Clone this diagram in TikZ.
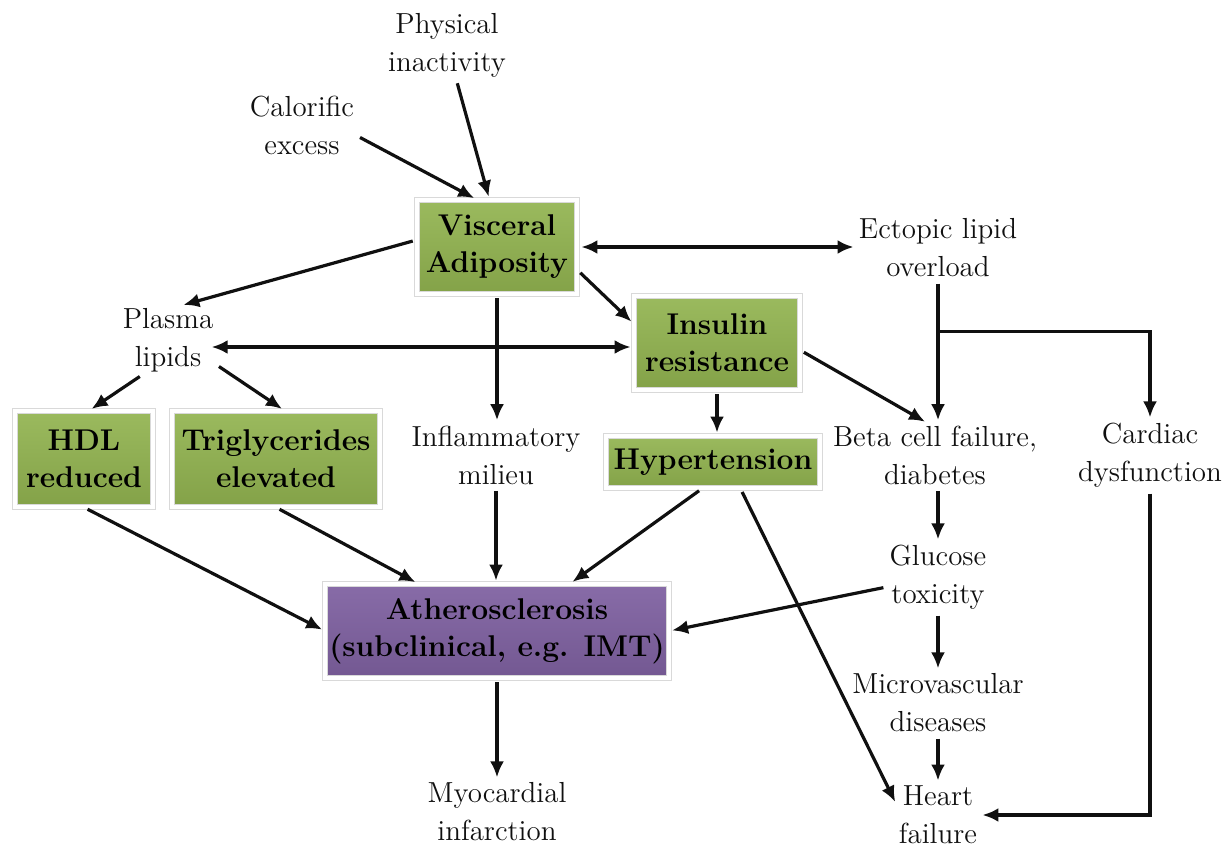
\documentclass[tikz,border=0pt]{standalone}
\usetikzlibrary{positioning,calc,shadows,arrows.meta}
\definecolor{leaf}{HTML}{92B450}
\definecolor{plum}{HTML}{8062A2}
\definecolor{ink}{HTML}{101010}
\tikzset{
  % --- nodes
  txt/.style  = {align=center, inner sep=1pt, font=\rmfamily\fontsize{14.5}{19}\selectfont, text=ink},
  box/.style  = {draw=black!15, double=white, double distance=2pt, line width=0.4pt,
                 align=center, inner sep=2pt,
                 font=\rmfamily\fontsize{15}{18.5}\selectfont\bfseries, text=black,
                 top color=leaf!92!white, bottom color=leaf!90!black,
                 drop shadow={shadow xshift=0.8pt, shadow yshift=-0.8pt, opacity=0.25}},
  risk/.style = {box, top color=plum!94!white, bottom color=plum!90!black},
  % --- edges
  e/.style    = {-{Latex[length=8pt,width=7pt]}, line width=1.6pt, draw=ink,
                 shorten >=1.5pt, shorten <=2pt},
  ee/.style   = {e, {Latex[length=8pt,width=7pt]}-{Latex[length=8pt,width=7pt]}},
}
\begin{document}
\begin{tikzpicture}[x=0.5pt,y=-0.5pt]
  \useasboundingbox (0,0) rectangle (1226,850);
  \node[txt] (phys)    at (447,45)  {Physical\\inactivity};
  \node[txt] (calor)   at (302,125) {Calorific\\excess};
  \node[box, minimum width=80pt, minimum height=47pt] (visc) at (497,247) {Visceral\\Adiposity};
  \node[txt] (ectop)   at (938,248) {Ectopic lipid\\overload};
  \node[txt] (plasma)  at (168,340) {Plasma\\lipids};
  \node[box, minimum width=83pt, minimum height=47pt] (insul) at (717,343) {Insulin\\resistance};
  \node[box, minimum width=69pt, minimum height=48pt] (hdl) at (84,459) {HDL\\reduced};
  \node[box, minimum width=104pt, minimum height=48pt] (trig) at (276,459) {Triglycerides\\elevated};
  \node[txt] (inflam)  at (496,455) {Inflammatory\\milieu};
  \node[box, minimum width=107pt, minimum height=26pt] (hyper) at (713,462) {Hypertension};
  \node[txt] (beta)    at (935,455) {Beta cell failure,\\diabetes};
  \node[txt] (cardiac) at (1150,455) {Cardiac\\dysfunction};
  \node[risk, minimum width=168pt, minimum height=47pt] (ath) at (497,631) {Atherosclerosis\\(subclinical, e.g. IMT)};
  \node[txt] (gluc)    at (938,577) {Glucose\\toxicity};
  \node[txt] (micro)   at (938,703) {Microvascular\\diseases};
  \node[txt] (myo)     at (497,812) {Myocardial\\infarction};
  \node[txt] (heart)   at (938,815) {Heart\\failure};
  % --- top causes
  \draw[e] (calor.-11) -- (visc.113);
  \draw[e] (phys.-75) -- (visc.99);
  \draw[ee] (visc.east) -- (visc.east -| ectop.west);
  \draw[e] (visc.175) -- (plasma.70);
  \draw[e] (visc.-16) -- (insul.167);
  \draw[e] (visc.south) -- (visc.south |- inflam.north);
  \coordinate (pl) at ($(plasma.east)+(-8,7)$);
  \draw[ee] (pl) -- (pl -| insul.west);
  \draw[e] (plasma.234) -- (hdl.84);
  \draw[e] (plasma.-27) -- (trig.80);
  \draw[e] (insul.south) -- (insul.south |- hyper.north);
  \draw[e] (insul.-5) -- (beta.103);
  \draw[e] (ectop.south) -- (ectop.south |- beta.north);
  \coordinate (fork) at ($(ectop.south)+(0,52)$);
  \draw[e, shorten <=0pt] (fork) -| (cardiac.north);
  % --- towards atherosclerosis
  \draw[e] (hdl.south) -- (ath.west);
  \draw[e] (trig.south) -- (ath.149);
  \draw[e] (inflam.south) -- (inflam.south |- ath.north);
  \draw[e] (hyper.248) -- (ath.33);
  \draw[e] (hyper.-44) -- (heart.166);
  \draw[e] (gluc.north |- beta.south) -- (gluc.north);
  \draw[e] (gluc.191) -- (ath.east);
  \draw[e] (gluc.south) -- (micro.north);
  \draw[e] (micro.south) -- (heart.north);
  \draw[e] (cardiac.south) |- (heart.east);
  \draw[e] (ath.south) -- (myo.north);
\end{tikzpicture}
\end{document}
